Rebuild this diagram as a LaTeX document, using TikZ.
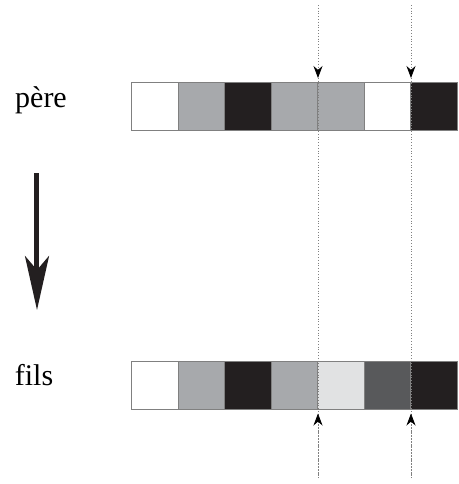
\documentclass[tikz,border=0pt]{standalone}
\usepackage{fontspec}
\setmainfont{Liberation Serif}
\usetikzlibrary{arrows.meta}
\definecolor{cellgray}{HTML}{A7A9AC}
\definecolor{celllight}{HTML}{E1E2E3}
\definecolor{celldark}{HTML}{58595B}
\definecolor{cellblack}{HTML}{231F20}
\tikzset{
  cell/.style={draw=gray, line width=0.5pt, minimum width=23.25pt, minimum height=24pt, inner sep=0pt, outer sep=0pt},
  guide/.style={densely dotted, gray, line width=0.4pt},
  cuttip/.style={-{Stealth[length=6pt,width=4.5pt,black]}},
  label/.style={font=\fontsize{15}{18}\selectfont, anchor=base}
}
\begin{document}
\begin{tikzpicture}[x=0.5pt,y=-0.5pt]
\useasboundingbox (0,0) rectangle (459,484);
% Labels
\node[label] (pere) at (41,107) {père};
\node[label] (fils) at (34,385) {fils};
% Parent
\foreach \c [count=\i] in {white,cellgray,cellblack,cellgray,cellgray,white,cellblack}
  \node[cell, fill=\c] (p\i) at ({132+46.5*(\i-0.5)},106) {};
% Child
\foreach \c [count=\i] in {white,cellgray,cellblack,cellgray,celllight,celldark,cellblack}
  \node[cell, fill=\c] (f\i) at ({132+46.5*(\i-0.5)},385.5) {};
% Cut points
\foreach \k in {4,6} {
  \coordinate (t\k) at (p\k.north east |- 0,5);
  \coordinate (b\k) at (f\k.south east |- 0,478);
  \draw[guide] (t\k) -- (b\k);
  \draw[guide, cuttip, shorten >=2pt] (t\k) -- (p\k.north east);
  \draw[guide, cuttip, shorten >=2pt] (b\k) -- (f\k.south east);
}
% Generation arrow
\coordinate (gtop) at (37,173);
\coordinate (gbot) at (37,310);
\draw[cellblack, line width=2.5pt, -{Stealth[length=27pt,width=12pt,inset=7pt]}] (gtop) -- (gbot);
\end{tikzpicture}
\end{document}
